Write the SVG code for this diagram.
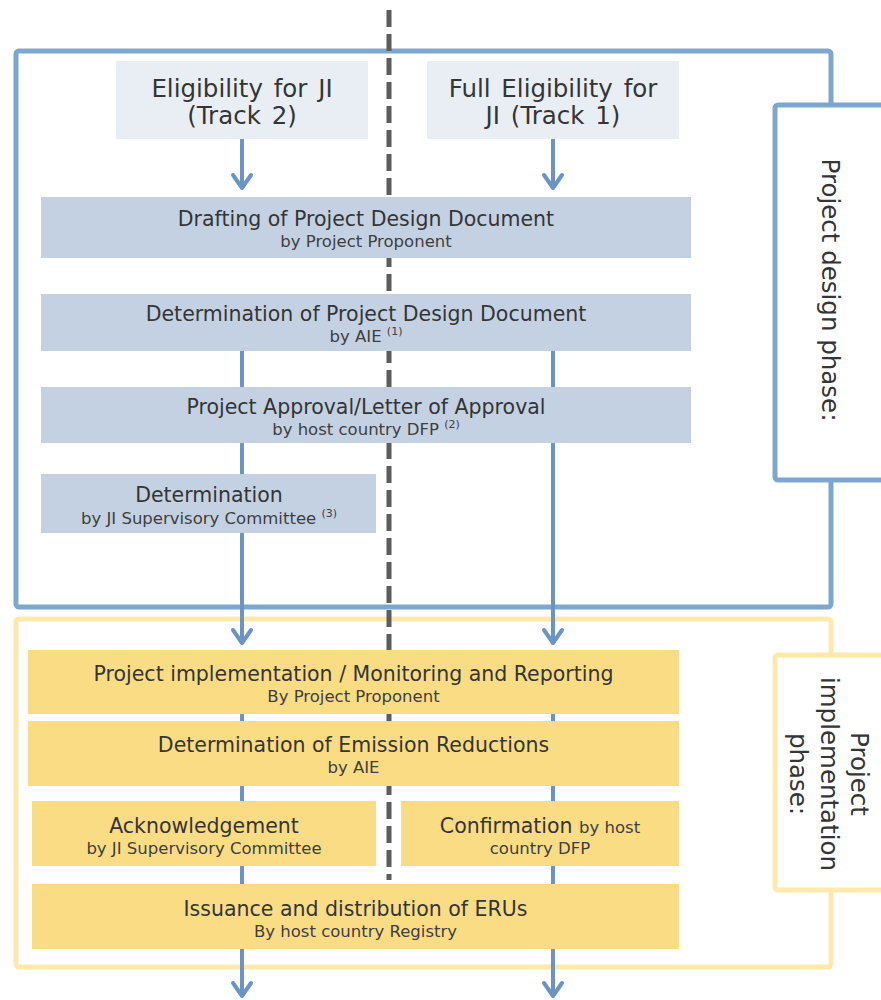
<svg xmlns="http://www.w3.org/2000/svg" width="881" height="1000" viewBox="0 0 881 1000">
<defs>
<style>
text{font-family:"DejaVu Sans","Verdana",sans-serif;fill:#353535;text-anchor:middle}
.t{font-size:20.5px}
.s{font-size:16.5px;fill:#3f3f3f}
.top{font-size:24.5px;word-spacing:3px}
.side{font-size:24.5px}
.sup{font-size:11px}
.frameB{fill:none;stroke:#7ea7cf;stroke-width:5}
.frameY{fill:none;stroke:#fde9ae;stroke-width:5}
.labB{fill:#fff;stroke:#7ea7cf;stroke-width:5}
.labY{fill:#fff;stroke:#fde9ae;stroke-width:5}
.nTop{fill:#e9eef5}
.nBlue{fill:#c3d1e3}
.nYel{fill:#fadc85}
.conn{stroke:#6a94c3;stroke-width:4;fill:none}
.dash{stroke:#5c5c5c;stroke-width:5;stroke-dasharray:17 7;fill:none}
</style>
<marker id="ah" markerUnits="userSpaceOnUse" viewBox="-16 -12 20 24" markerWidth="20" markerHeight="24" refX="0" refY="0" orient="auto" overflow="visible">
<path d="M-13,-9 L0,0 L-13,9" fill="none" stroke="#6a94c3" stroke-width="4" stroke-linejoin="round" stroke-linecap="round"/>
</marker>
</defs>
<rect width="881" height="1000" fill="#fff"/>

<g id="phase-frames">
<rect class="frameB" x="16" y="51" width="815" height="556" rx="3"/>
<rect class="frameY" x="16" y="619" width="815" height="348" rx="3"/>
</g>

<g id="label-design">
<rect class="labB" x="775" y="105" width="120" height="375" rx="3"/>
<text class="side" transform="translate(822,290) rotate(90)">Project design phase:</text>
</g>
<g id="label-implementation">
<rect class="labY" x="775" y="655" width="120" height="235" rx="3"/>
<text class="side" transform="translate(851,774) rotate(90)">Project</text>
<text class="side" transform="translate(821,774) rotate(90)">implementation</text>
<text class="side" transform="translate(790,774) rotate(90)">phase:</text>
</g>

<g id="connectors">
<line class="dash" x1="389" y1="10" x2="389" y2="880"/>
<line class="conn" x1="242" y1="139" x2="242" y2="188" marker-end="url(#ah)"/>
<line class="conn" x1="553" y1="139" x2="553" y2="188" marker-end="url(#ah)"/>
<line class="conn" x1="242" y1="351" x2="242" y2="643" marker-end="url(#ah)"/>
<line class="conn" x1="553" y1="351" x2="553" y2="643" marker-end="url(#ah)"/>
<line class="conn" x1="242" y1="714" x2="242" y2="996" marker-end="url(#ah)"/>
<line class="conn" x1="553" y1="714" x2="553" y2="996" marker-end="url(#ah)"/>
</g>

<g id="track2">
<rect class="nTop" x="116" y="61" width="252" height="78"/>
<text class="top" x="242" y="97">Eligibility for JI</text>
<text class="top" x="242" y="124">(Track 2)</text>
</g>
<g id="track1">
<rect class="nTop" x="427" y="61" width="252" height="78"/>
<text class="top" x="553" y="97">Full Eligibility for</text>
<text class="top" x="553" y="124">JI (Track 1)</text>
</g>

<g id="drafting">
<rect class="nBlue" x="41" y="197" width="650" height="61"/>
<text class="t" x="366" y="226">Drafting of Project Design Document</text>
<text class="s" x="366" y="247">by Project Proponent</text>
</g>
<g id="determination-pdd">
<rect class="nBlue" x="41" y="294" width="650" height="57"/>
<text class="t" x="366" y="321">Determination of Project Design Document</text>
<text class="s" x="366" y="342">by AIE <tspan class="sup" dy="-7">(1)</tspan></text>
</g>
<g id="approval">
<rect class="nBlue" x="41" y="387" width="650" height="56"/>
<text class="t" x="366" y="414">Project Approval/Letter of Approval</text>
<text class="s" x="366" y="435">by host country DFP <tspan class="sup" dy="-7">(2)</tspan></text>
</g>
<g id="determination-jisc">
<rect class="nBlue" x="41" y="474" width="335" height="59"/>
<text class="t" x="209" y="502">Determination</text>
<text class="s" x="209" y="524">by JI Supervisory Committee <tspan class="sup" dy="-7">(3)</tspan></text>
</g>

<g id="implementation">
<rect class="nYel" x="28" y="650" width="651" height="64"/>
<text class="t" x="353.5" y="681">Project implementation / Monitoring and Reporting</text>
<text class="s" x="353.5" y="702">By Project Proponent</text>
</g>
<g id="determination-er">
<rect class="nYel" x="28" y="721" width="651" height="65"/>
<text class="t" x="353.5" y="752">Determination of Emission Reductions</text>
<text class="s" x="353.5" y="773">by AIE</text>
</g>
<g id="acknowledgement">
<rect class="nYel" x="32" y="801" width="344" height="65"/>
<text class="t" x="204" y="833">Acknowledgement</text>
<text class="s" x="204" y="854">by JI Supervisory Committee</text>
</g>
<g id="confirmation">
<rect class="nYel" x="401" y="801" width="278" height="65"/>
<text class="t" x="540" y="833">Confirmation <tspan class="s">by host</tspan></text>
<text class="s" x="540" y="854">country DFP</text>
</g>
<g id="issuance">
<rect class="nYel" x="32" y="884" width="647" height="65"/>
<text class="t" x="355.5" y="916">Issuance and distribution of ERUs</text>
<text class="s" x="355.5" y="937">By host country Registry</text>
</g>
</svg>
